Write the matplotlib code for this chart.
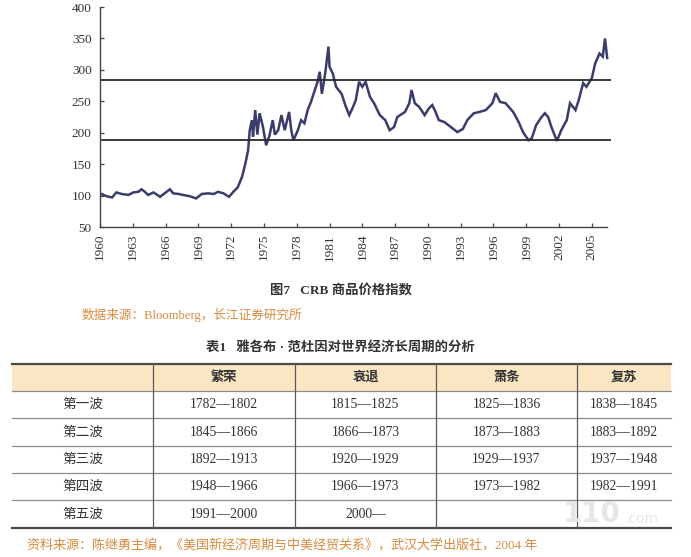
import matplotlib
matplotlib.use("Agg")
import matplotlib.pyplot as plt

plt.rcParams['font.family'] = ['Liberation Serif', 'Noto Sans CJK SC']

# ---------------- data ----------------
years = [1960.0, 1960.15, 1960.6, 1961.1, 1961.5, 1962.0, 1962.6, 1963.05, 1963.5, 1963.8,
         1964.1, 1964.4, 1964.9, 1965.5, 1965.9, 1966.4, 1966.7, 1967.2, 1967.6, 1968.2,
         1968.8, 1969.3, 1969.9, 1970.4, 1970.8, 1971.3, 1971.8, 1972.2, 1972.6, 1973.0,
         1973.3, 1973.55, 1973.7, 1973.9, 1974.0, 1974.2, 1974.4, 1974.6, 1974.9, 1975.2,
         1975.5, 1975.8, 1976.0, 1976.3, 1976.6, 1976.9, 1977.3, 1977.5, 1977.7, 1978.1,
         1978.4, 1978.7, 1979.0, 1979.3, 1979.6, 1979.9, 1980.1, 1980.3, 1980.6, 1980.9,
         1981.0, 1981.3, 1981.6, 1982.1, 1982.5, 1982.8, 1983.1, 1983.4, 1983.7, 1984.0,
         1984.3, 1984.7, 1985.1, 1985.6, 1986.1, 1986.5, 1986.9, 1987.2, 1987.9, 1988.3,
         1988.5, 1988.8, 1989.2, 1989.7, 1990.1, 1990.4, 1990.7, 1991.0, 1991.5, 1992.1,
         1992.7, 1993.2, 1993.6, 1994.2, 1994.7, 1995.3, 1995.9, 1996.2, 1996.6, 1997.1,
         1997.5, 1997.8, 1998.3, 1998.7, 1999.2, 1999.5, 1999.9, 2000.4, 2000.7, 2001.0,
         2001.3, 2001.8, 2002.2, 2002.7, 2003.0, 2003.5, 2003.8, 2004.2, 2004.5, 2005.0,
         2005.3, 2005.7, 2006.0, 2006.2, 2006.4]
crb = [101, 102.5, 99, 97, 105, 102.5, 101, 105, 106, 110,
       106, 101, 105, 98, 103.5, 110, 103.5, 102.5, 101, 99,
       95.5, 102.5, 103.5, 102.5, 106, 103.5, 98, 106, 113, 130,
       151, 172, 204, 220, 194, 236, 197, 231, 210, 180,
       195, 220, 197, 204, 228, 204, 233, 204, 188, 204,
       220, 215, 236, 249, 265, 281, 297, 262, 294, 337,
       305, 294, 273, 262, 241, 228, 239, 252, 281, 273,
       281, 257, 246, 228, 220, 204, 209, 225, 233, 247,
       268, 247, 241, 228, 239, 244, 233, 220, 217, 209,
       201, 206, 220, 231, 233, 236, 247, 263, 249, 247,
       239, 233, 217, 201, 188, 191, 212, 225, 231, 225,
       209, 187, 204, 220, 247, 236, 252, 279, 273, 287,
       310, 326, 321, 350, 319]
upper_level = 284
lower_level = 188
x_ticks = list(range(1960, 2006, 3))
y_ticks = list(range(50, 401, 50))

caption = "图7   CRB 商品价格指数"
chart_source = "数据来源：Bloomberg，长江证券研究所"
table_title = "表1   雅各布 · 范杜因对世界经济长周期的分析"
col_headers = ["", "繁荣", "衰退", "萧条", "复苏"]
row_labels = ["第一波", "第二波", "第三波", "第四波", "第五波"]
prosperity = ["1782—1802", "1845—1866", "1892—1913", "1948—1966", "1991—2000"]
recession = ["1815—1825", "1866—1873", "1920—1929", "1966—1973", "2000—"]
depression = ["1825—1836", "1873—1883", "1929—1937", "1973—1982", ""]
recovery = ["1838—1845", "1883—1892", "1937—1948", "1982—1991", ""]
table_source = "资料来源：陈继勇主编，《美国新经济周期与中美经贸关系》，武汉大学出版社，2004 年"

# ---------------- figure ----------------
W, H = 691, 557
fig = plt.figure(figsize=(W / 100, H / 100), dpi=100)
fig.patch.set_facecolor('white')

# overlay axes in pixel coordinates for captions and table
ov = fig.add_axes([0, 0, 1, 1])
ov.set_xlim(0, W)
ov.set_ylim(H, 0)
ov.axis('off')

# chart axes
ax_left, ax_right, ax_top, ax_bot = 100, 611, 7, 227
ax = fig.add_axes([ax_left / W, 1 - ax_bot / H, (ax_right - ax_left) / W, (ax_bot - ax_top) / H])
ax.set_facecolor('none')
line_col = '#3a3d6c'
ax.plot(years, crb, color=line_col, lw=1.8, solid_joinstyle='miter')
ax.axhline(upper_level, color='#2a2a2a', lw=1.3)
ax.axhline(lower_level, color='#2a2a2a', lw=1.3)
ax.set_xlim(1960, 2006.75)
ax.set_ylim(50, 400)
ax.set_xticks(x_ticks)
ax.set_xticklabels([str(t) for t in x_ticks], rotation=90, fontsize=9.5, color='#333333')
ax.set_yticks(y_ticks)
ax.set_yticklabels([str(t) for t in y_ticks], fontsize=9.5, color='#333333')
ax.tick_params(axis='both', direction='in', length=3, width=0.9, color='#444444')
ax.tick_params(axis='x', pad=5)
ax.tick_params(axis='y', pad=6)
for s in ['top', 'right']:
    ax.spines[s].set_visible(False)
for s in ['left', 'bottom']:
    ax.spines[s].set_color('#444444')
    ax.spines[s].set_linewidth(1.0)
ax.spines['bottom'].set_bounds(1960, 2006.4)

# captions
orange = '#d98b3e'
ov.text(341, 290, caption, ha='center', va='center', fontsize=9.6, fontweight='bold', color='#333333')
ov.text(82, 315, chart_source, ha='left', va='center', fontsize=9.1, color=orange)
ov.text(340, 347, table_title, ha='center', va='center', fontsize=9.6, fontweight='bold', color='#333333')

# table
col_edges = [12, 153, 295, 436, 577, 671]
row_edges = [364, 391, 418, 446, 473, 500, 528]
ov.fill_between([col_edges[0], col_edges[-1]], row_edges[0], row_edges[1], color='#fbe6c4', lw=0)
ov.plot([col_edges[0], col_edges[-1]], [row_edges[0]] * 2, color='#4a4a4a', lw=1.6)
ov.plot([col_edges[0], col_edges[-1]], [row_edges[-1]] * 2, color='#4a4a4a', lw=1.6)
for ry in row_edges[1:-1]:
    ov.plot([col_edges[0], col_edges[-1]], [ry, ry], color='#8c8c8c', lw=0.9)
for cx in col_edges[1:-1]:
    ov.plot([cx, cx], [row_edges[0], row_edges[-1]], color='#5a5a5a', lw=0.9)

centers_x = [(col_edges[i] + col_edges[i + 1]) / 2 for i in range(5)]
hy = (row_edges[0] + row_edges[1]) / 2
for cx, h in zip(centers_x, col_headers):
    if h:
        ov.text(cx, hy, h, ha='center', va='center', fontsize=9.5, fontweight='bold', color='#333333')
columns = [row_labels, prosperity, recession, depression, recovery]
for i in range(5):
    cy = (row_edges[i + 1] + row_edges[i + 2]) / 2
    for j, col in enumerate(columns):
        if col[i]:
            ov.text(centers_x[j], cy, col[i], ha='center', va='center', fontsize=9.8, color='#333333')

ov.text(27, 545, table_source, ha='left', va='center', fontsize=9.4, color=orange)

# faint watermark
ov.text(592, 514, "110", ha='center', va='center', fontsize=20, fontweight='bold',
        color='#e6e6e6', family='DejaVu Sans')
ov.text(625, 519, ".com", ha='left', va='center', fontsize=10, color='#e6e6e6', family='DejaVu Sans')

fig.savefig('out.png', dpi=100)
